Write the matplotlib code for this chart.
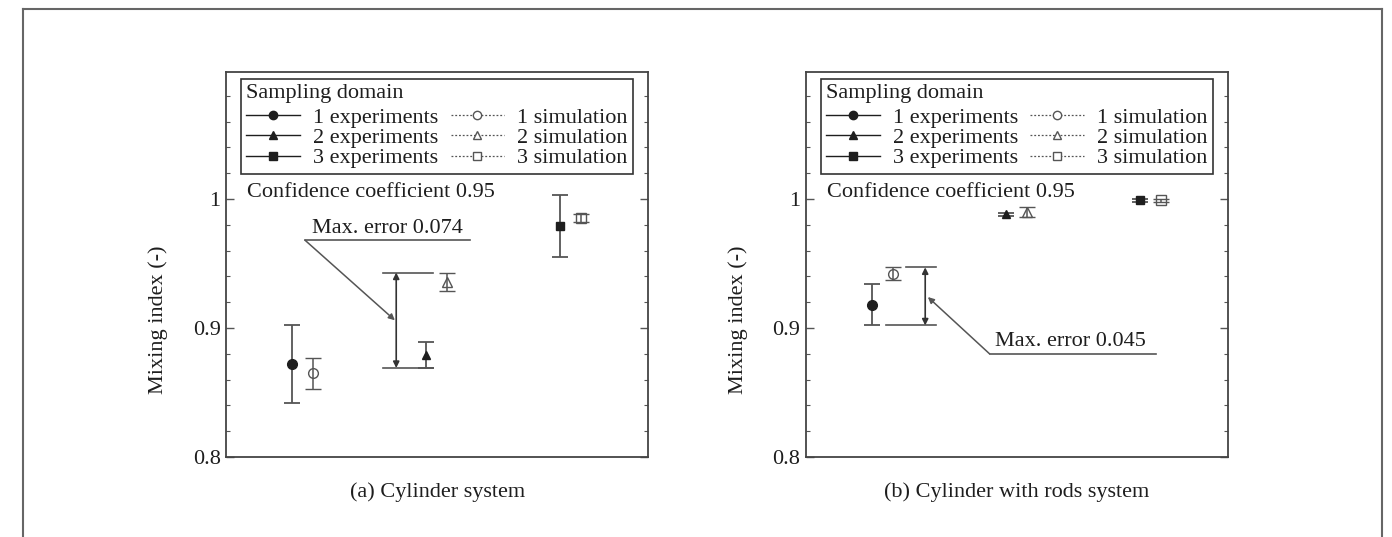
import matplotlib
matplotlib.use("Agg")
import matplotlib.pyplot as plt
from matplotlib.lines import Line2D
from matplotlib.ticker import MultipleLocator, FixedLocator, FixedFormatter

plt.rcParams['font.family'] = ['Liberation Serif', 'DejaVu Serif']
plt.rcParams['font.size'] = 16

# sampling domains 1..3
domains = [1, 2, 3]

# (a) cylinder system
exp_a = [0.872, 0.879, 0.979]
exp_err_a = [0.030, 0.010, 0.024]
sim_a = [0.865, 0.936, 0.985]
sim_err_a = [0.012, 0.007, 0.003]

# (b) cylinder with rods system
exp_b = [0.918, 0.988, 0.999]
exp_err_b = [0.016, 0.0012, 0.001]
sim_b = [0.942, 0.990, 0.999]
sim_err_b = [0.005, 0.004, 0.001]

markers = ['o', '^', 's']
exp_labels = ['1 experiments', '2 experiments', '3 experiments']
sim_labels = ['1 simulation', '2 simulation', '3 simulation']
captions = ['(a) Cylinder system', '(b) Cylinder with rods system']

INK = '#1e1e1e'
GREY = '#555555'
FS = 16


def setup_axes(ax):
    ax.set_xlim(0.43, 3.58)
    ax.set_ylim(0.8, 1.0985)
    ax.xaxis.set_major_locator(FixedLocator([]))
    ax.xaxis.set_minor_locator(FixedLocator([]))
    ax.yaxis.set_major_locator(FixedLocator([0.8, 0.9, 1.0]))
    ax.yaxis.set_major_formatter(FixedFormatter(['0.8', '0.9', '1']))
    ax.yaxis.set_minor_locator(MultipleLocator(0.02))
    ax.tick_params(axis='y', which='both', direction='in', left=True, right=True,
                   colors=GREY, labelcolor=INK, labelsize=FS, pad=4)
    ax.tick_params(axis='y', which='major', length=6, width=1.0)
    ax.tick_params(axis='y', which='minor', length=3, width=0.8)
    for sp in ax.spines.values():
        sp.set_color('#444444')
        sp.set_linewidth(1.3)
    ax.set_ylabel('Mixing index (-)', fontsize=FS, color=INK)
    ax.yaxis.set_label_coords(-0.137, 0.356)


def draw_points(ax, exp, exp_err, sim, sim_err):
    handles_e, handles_s = [], []
    for d, m, y, e, ys, es in zip(domains, markers, exp, exp_err, sim, sim_err):
        ax.errorbar(d - 0.08, y, yerr=e, fmt=m, ms=7 if m == 'o' else 6,
                    mfc=INK, mec=INK, ecolor=GREY, elinewidth=1.3,
                    capsize=6, capthick=1.3, zorder=3)
        ax.errorbar(d + 0.08, ys, yerr=es, fmt=m, ms=7 if m == 'o' else 6.5,
                    mfc='none', mec=GREY, mew=1.0, ecolor=GREY, elinewidth=1.1,
                    capsize=6, capthick=1.1, zorder=3)
        handles_e.append(Line2D([], [], color=INK, lw=1.0, marker=m, ms=6,
                                mfc=INK, mec=INK))
        handles_s.append(Line2D([], [], color=GREY, lw=0.9, ls=(0, (1.5, 1.5)),
                                marker=m, ms=6, mfc='white', mec=GREY))
    leg = ax.legend(handles_e + handles_s, exp_labels + sim_labels, ncol=2,
                    title='Sampling domain', title_fontsize=FS, fontsize=FS,
                    loc='upper left', bbox_to_anchor=(0.035, 0.982),
                    alignment='left', frameon=True, fancybox=False,
                    edgecolor='#333333', framealpha=1, borderpad=0.25,
                    labelspacing=-0.02, handlelength=2.4, handletextpad=0.6,
                    columnspacing=0.55, borderaxespad=0)
    leg._legend_box.sep = 3
    leg.get_frame().set_linewidth(1.2)
    for t in leg.get_texts():
        t.set_color(INK)
    leg.get_title().set_color(INK)


def max_error(ax, x0, x1, x_top0, top, bottom, x_arrow, text_xy, line_x, tip_xy, text):
    # horizontal bounds of the largest deviation with a double arrow between them
    ax.plot([x_top0, x1], [top, top], color=GREY, lw=1.2)
    ax.plot([x0, x1], [bottom, bottom], color=GREY, lw=1.2)
    ax.annotate('', xy=(x_arrow, top), xytext=(x_arrow, bottom),
                arrowprops=dict(arrowstyle='<|-|>', color='#333333', lw=1.2,
                                mutation_scale=9, shrinkA=0, shrinkB=0))
    ax.text(text_xy[0], text_xy[1], text, fontsize=FS, color=INK,
            ha='left', va='bottom')
    ax.plot(line_x, [text_xy[1] - 0.002] * 2, color=GREY, lw=1.2)
    ax.annotate('', xy=tip_xy, xytext=(line_x[0], text_xy[1] - 0.002),
                arrowprops=dict(arrowstyle='-|>', color=GREY, lw=1.1,
                                mutation_scale=9, shrinkA=0, shrinkB=0))


fig = plt.figure(figsize=(13.92, 5.37), dpi=100)
ax_a = fig.add_axes([0.1624, 0.149, 0.3032, 0.717])
ax_b = fig.add_axes([0.579, 0.149, 0.3032, 0.717])

for ax, cap in zip([ax_a, ax_b], captions):
    setup_axes(ax)
    ax.text(0.5, -0.09, cap, transform=ax.transAxes, ha='center', va='center',
            fontsize=FS, color=INK)
    ax.text(0.587, 1.0047, 'Confidence coefficient 0.95', fontsize=FS,
            color=INK, ha='left', va='center')

draw_points(ax_a, exp_a, exp_err_a, sim_a, sim_err_a)
draw_points(ax_b, exp_b, exp_err_b, sim_b, sim_err_b)

top_a = sim_a[1] + sim_err_a[1]
bot_a = exp_a[1] - exp_err_a[1]
max_error(ax_a, 1.60, 1.975, 1.60, top_a, bot_a, 1.70, (1.07, 0.970),
          [1.02, 2.25], (1.69, 0.906), 'Max. error %.3f' % (top_a - bot_a))

top_b = sim_b[0] + sim_err_b[0]
bot_b = exp_b[0] - exp_err_b[0]
max_error(ax_b, 1.03, 1.40, 1.18, top_b, bot_b, 1.32, (1.84, 0.882),
          [1.80, 3.04], (1.34, 0.924), 'Max. error %.3f' % (top_b - bot_b))

# outer frame around both panels
frame_kw = dict(color='#666666', lw=1.5, transform=fig.transFigure)
fig.add_artist(Line2D([0.0165, 0.0165], [0.0, 0.983], **frame_kw))
fig.add_artist(Line2D([0.0165, 0.9928], [0.983, 0.983], **frame_kw))
fig.add_artist(Line2D([0.9928, 0.9928], [0.0, 0.983], **frame_kw))

fig.savefig('out.png', dpi=100)
